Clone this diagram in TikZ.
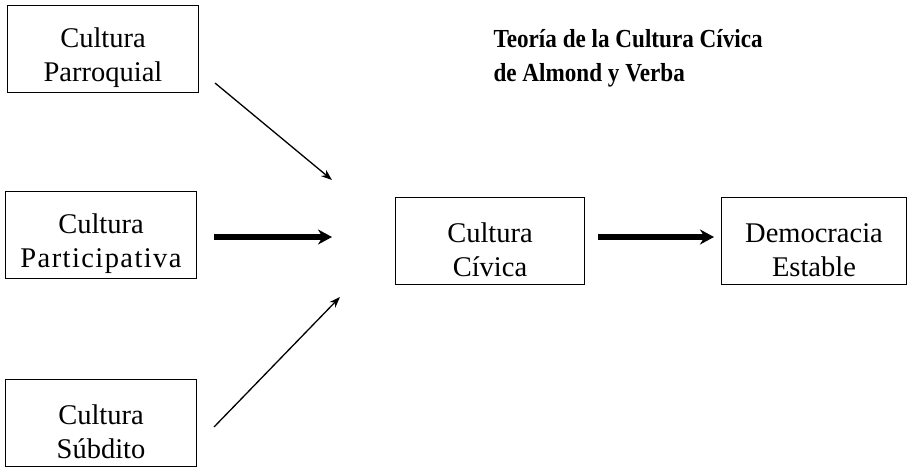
\documentclass[tikz,border=0pt]{standalone}
\usepackage{fontspec}
\setmainfont{Liberation Serif}
\newfontfamily\titlefont[FakeStretch=0.89]{Liberation Serif}
\usetikzlibrary{arrows.meta}
\newcommand{\lowtext}{\rule{0pt}{37pt}}

\begin{document}
\begin{tikzpicture}[x=1pt, y=-1pt,
    culture/.style={draw, line width=1.3pt, minimum width=191pt, minimum height=87pt,
      align=center, inner sep=0pt, font=\fontsize{28.5}{34}\selectfont},
    thin arrow/.style={line width=1.3pt, -{Stealth[length=11pt, width=8pt]}},
    thick arrow/.style={line width=5.5pt, -{Stealth[length=14pt, width=15pt]}}]
%%% bounding box %%%
\useasboundingbox (0,0) rectangle (913,467);

      \node[culture] (parroquial) at (103,49) {\lowtext Cultura\\Parroquial};
      \node[culture] (participativa) at (101,235) {\lowtext Cultura\\{\addfontfeatures{LetterSpace=5}Participativa}};
      \node[culture] (subdito) at (101,423) {\lowtext Cultura\\Súbdito};
      %%
      \node[culture, minimum width=189pt] (civica) at (490,241) {\lowtext Cultura\\Cívica};
      \node[culture, minimum width=185pt] (democracia) at (814,241) {\lowtext Democracia\\Estable};
      %%
      \node[anchor=west, align=left, font=\titlefont\bfseries\fontsize{26}{34}\selectfont] (titulo)
        at (490,58) {Teoría de la Cultura Cívica\\de Almond y Verba};

      %% free ends of the arrows
      \coordinate (p1) at (215,83);
      \coordinate (p2) at (332,180);
      \coordinate (p3) at (214,237);
      \coordinate (p4) at (332,237);
      \coordinate (p5) at (214,427);
      \coordinate (p6) at (340,297);
      \coordinate (p7) at (598,237);
      \coordinate (p8) at (714,237);

      \draw[thin arrow] (p1) -- (p2);
      \draw[thick arrow] (p3) -- (p4);
      \draw[thin arrow] (p5) -- (p6);
      \draw[thick arrow] (p7) -- (p8);

\end{tikzpicture}
\end{document}
